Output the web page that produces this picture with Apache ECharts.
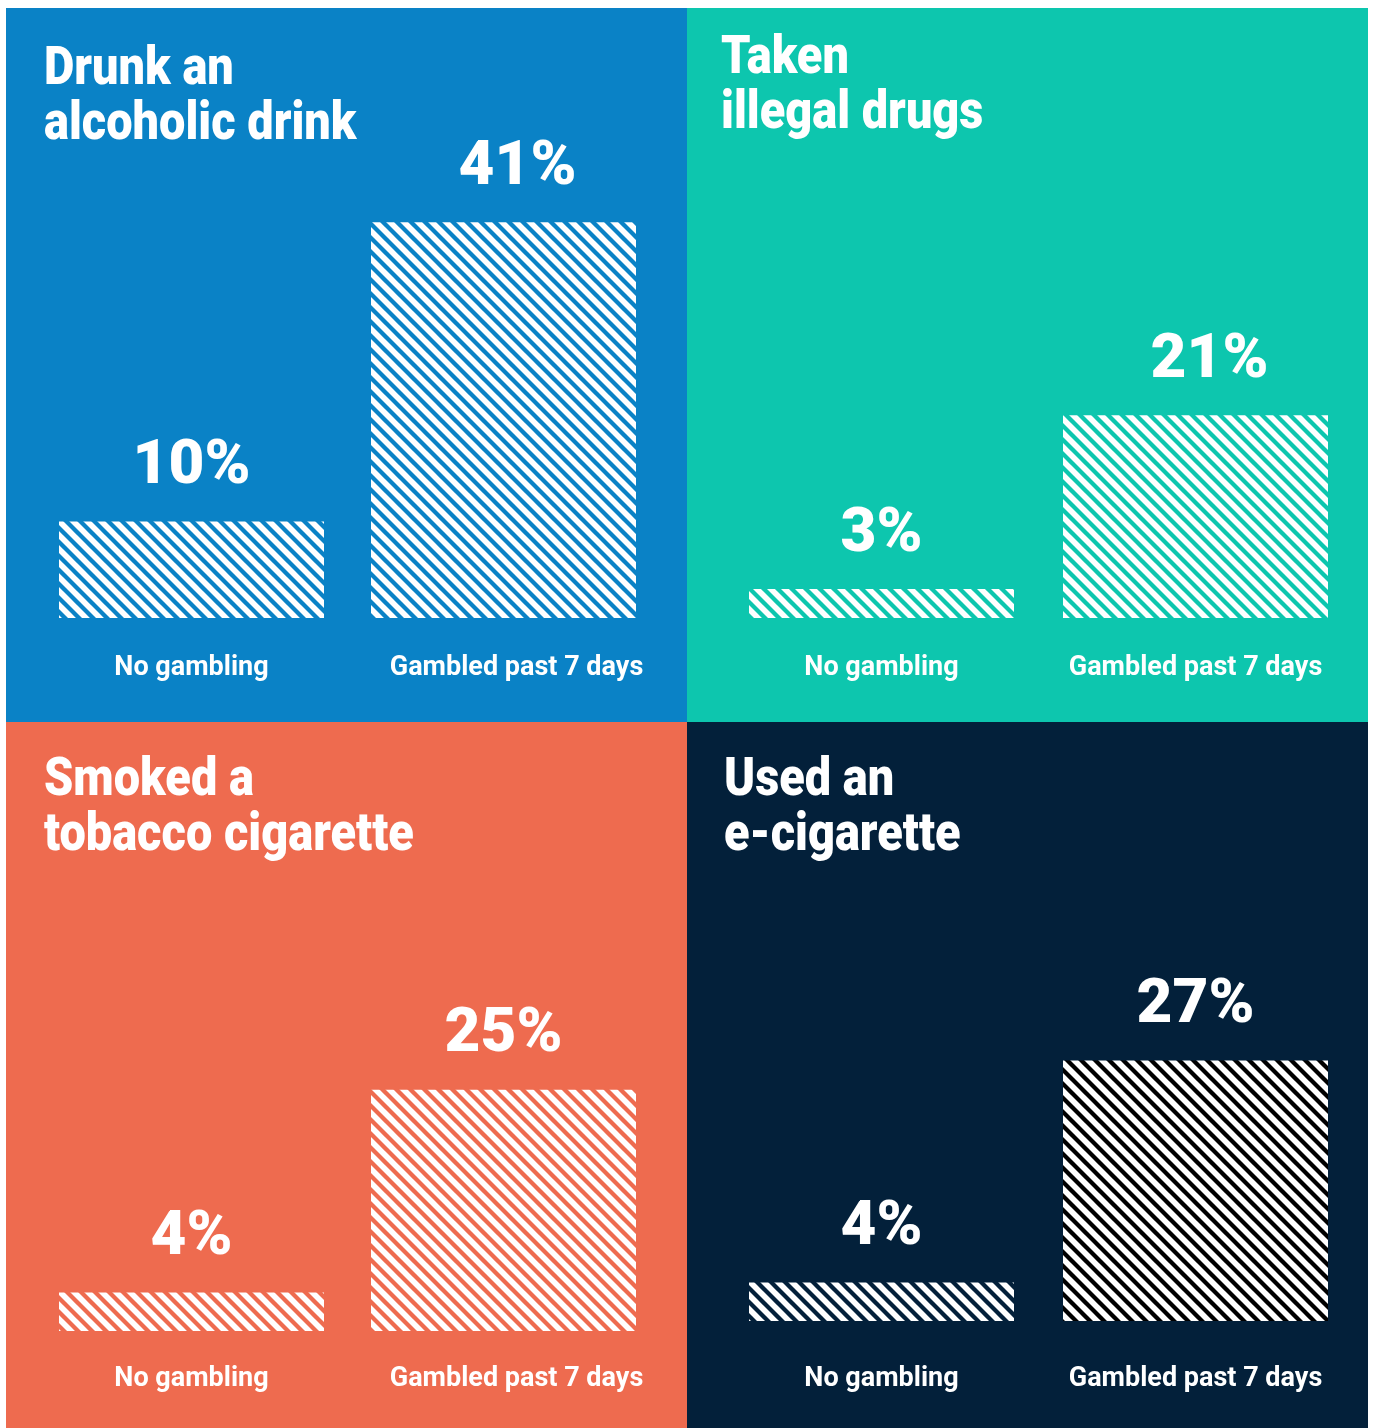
<!DOCTYPE html>
<html>
<head>
<meta charset="utf-8">
<script src="https://cdn.jsdelivr.net/npm/echarts@6/dist/echarts.min.js"></script>
<style>
html,body{margin:0;padding:0;background:#fff;}
#chart{width:1375px;height:1428px;}
</style>
</head>
<body>
<div id="chart"></div>
<script>
// ---- data ----
const categories = ['No gambling', 'Gambled past 7 days'];
const panelTitles = ['Drunk an\nalcoholic drink', 'Taken\nillegal drugs', 'Smoked a\ntobacco cigarette', 'Used an\ne-cigarette'];
const alcohol = [10, 41];
const drugs = [3, 21];
const tobacco = [4, 25];
const eCigarette = [4, 27];

// ---- styles / layout ----
const panelColors = ['#0A82C6', '#0DC6AE', '#EE6B4F', '#03203A'];
const panels = [
  {x: 6, y: 8, w: 681, h: 714, gridLeft: 35.5, gridW: 624, bottom: 618, labelMargin: 37, titleX: 44, titleY: 43, gOffset: 13},
  {x: 687, y: 8, w: 681, h: 714, gridLeft: 724.5, gridW: 628, bottom: 618, labelMargin: 37, titleX: 721, titleY: 32, gOffset: 0},
  {x: 6, y: 722, w: 681, h: 706, gridLeft: 35.5, gridW: 624, bottom: 1331, labelMargin: 34.5, titleX: 44, titleY: 754, gOffset: 13},
  {x: 687, y: 722, w: 681, h: 706, gridLeft: 724.5, gridW: 628, bottom: 1321, labelMargin: 44.5, titleX: 724, titleY: 754, gOffset: 0}
];
const seriesData = [alcohol, drugs, tobacco, eCigarette];
const gambledBg = [null, null, null, '#000000'];
const pxPerPct = 9.65;
const yMax = 50;

function stripes(bg) {
  const w = 14, h = 14;
  const c = document.createElement('canvas');
  c.width = w; c.height = h;
  const g = c.getContext('2d');
  if (bg) { g.fillStyle = bg; g.fillRect(0, 0, w, h); }
  g.strokeStyle = '#ffffff';
  g.lineWidth = 5.6;
  for (let k = -2; k <= 2; k++) {
    g.beginPath();
    g.moveTo(k * w - w, -h);
    g.lineTo(k * w + 2 * w, 2 * h);
    g.stroke();
  }
  return c;
}

const chart = echarts.init(document.getElementById('chart'), null, {renderer: 'canvas'});

const grids = [], xAxes = [], yAxes = [], series = [], graphics = [];
panels.forEach((p, i) => {
  graphics.push({type: 'rect', z: -10, silent: true, shape: {x: p.x, y: p.y, width: p.w, height: p.h}, style: {fill: panelColors[i]}});
  graphics.push({type: 'text', x: p.titleX, y: p.titleY, scaleX: 0.885, z: 10,
    style: {text: panelTitles[i], fill: '#ffffff', fontFamily: 'Roboto', fontWeight: 900, fontSize: 53, lineHeight: 55, verticalAlign: 'top'}});
  const gh = yMax * pxPerPct;
  grids.push({left: p.gridLeft, width: p.gridW, top: p.bottom - gh, height: gh});
  xAxes.push({type: 'category', gridIndex: i, data: categories,
    axisLine: {show: false}, axisTick: {show: false}, splitLine: {show: false},
    axisLabel: {interval: 0, hideOverlap: false, margin: p.labelMargin, color: '#ffffff', fontFamily: 'Roboto', fontWeight: 700, fontSize: 27,
      formatter: (v, idx) => idx === 1 ? '{g|' + v + '}' : '{n|' + v + '}',
      rich: {n: {color: '#fff', fontFamily: 'Roboto', fontWeight: 700, fontSize: 27},
             g: {color: '#fff', fontFamily: 'Roboto', fontWeight: 700, fontSize: 27, padding: [0, 0, 0, p.gOffset * 2]}}}
  });
  yAxes.push({type: 'value', gridIndex: i, min: 0, max: yMax, show: false, splitLine: {show: false}});
  series.push({
    type: 'bar', xAxisIndex: i, yAxisIndex: i, barWidth: 265, animation: false,
    data: seriesData[i].map((v, j) => ({
      value: v,
      itemStyle: {color: {image: stripes(j === 1 ? gambledBg[i] : null), repeat: 'repeat'}},
      label: {offset: [j === 1 && (i === 0 || i === 1) ? 14 : 0, 0]}
    })),
    label: {show: true, position: 'top', distance: 23, color: '#ffffff', fontFamily: 'Roboto', fontWeight: 900, fontSize: 62,
      formatter: (d) => d.value + '%'}
  });
});

chart.setOption({
  backgroundColor: '#ffffff',
  animation: false,
  grid: grids,
  xAxis: xAxes,
  yAxis: yAxes,
  series: series,
  graphic: graphics
});
</script>
</body>
</html>
